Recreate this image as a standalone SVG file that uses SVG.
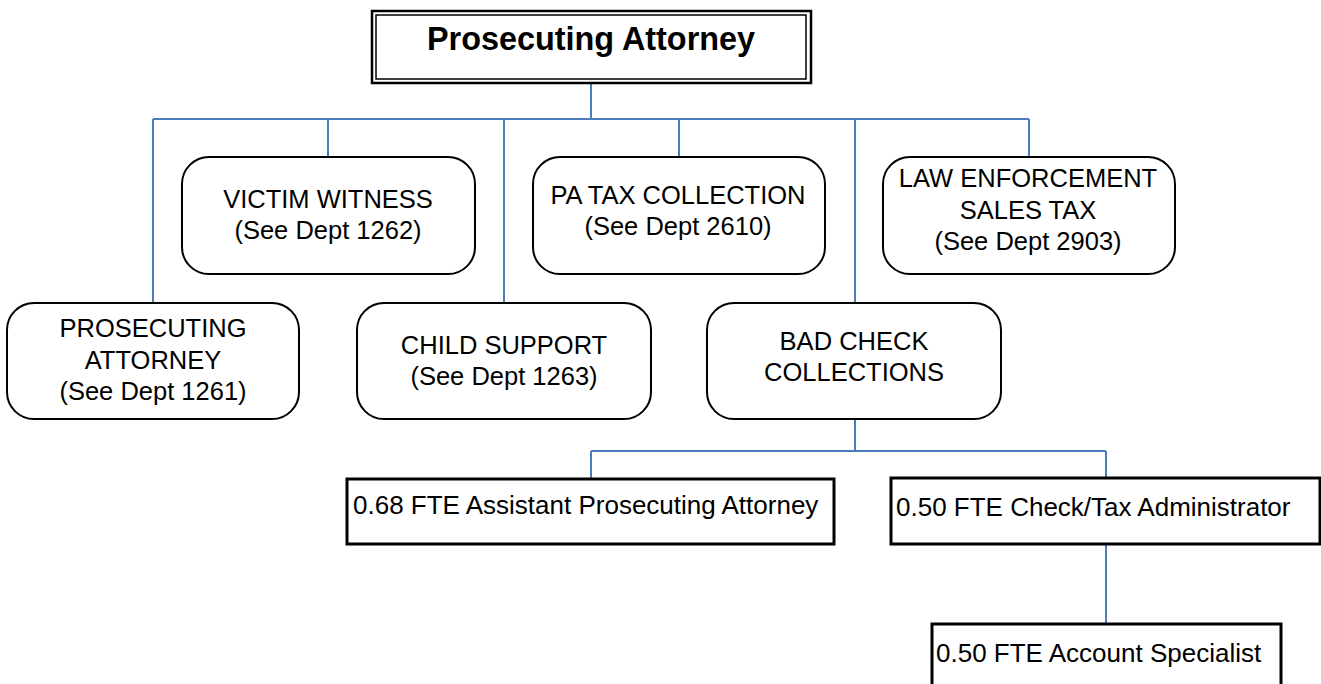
<svg xmlns="http://www.w3.org/2000/svg" width="1321" height="684" viewBox="0 0 1321 684">
<style>
text{font-family:"Liberation Sans",Arial,sans-serif;font-size:25.5px;fill:#000}
.t{font-weight:bold;font-size:32.4px}
.s{font-size:26px}
.rb{fill:#fff;stroke:#000;stroke-width:2}
.sq{fill:#fff;stroke:#000;stroke-width:3}
.c{fill:none;stroke:#4A7EBB;stroke-width:2}
.m{text-anchor:middle}
</style>
<rect width="1321" height="684" fill="#fff"/>
<g id="connectors">
<path class="c" d="M591,83V119M153,119H1029M153,119V303M328,119V157M504,119V303M679,119V157M855,119V303M1029,119V157"/>
<path class="c" d="M855,419V451M591,451H1106M591,451V479M1106,451V478M1106,544V624"/>
</g>
<g id="top">
<rect x="372" y="11" width="439" height="72" fill="#fff" stroke="#000" stroke-width="2.5"/>
<rect x="376" y="15" width="430" height="64" fill="none" stroke="#000" stroke-width="1.5"/>
<text class="t m" x="591" y="50">Prosecuting Attorney</text>
</g>
<g id="victim">
<rect class="rb" x="182" y="157" width="293" height="117" rx="27"/>
<text class="m" x="328" y="208">VICTIM WITNESS</text>
<text class="m" x="328" y="239">(See Dept 1262)</text>
</g>
<g id="patax">
<rect class="rb" x="533" y="157" width="292" height="117" rx="27"/>
<text class="m" x="678" y="204">PA TAX COLLECTION</text>
<text class="m" x="678" y="235">(See Dept 2610)</text>
</g>
<g id="law">
<rect class="rb" x="883" y="157" width="292" height="117" rx="27"/>
<text class="m" x="1028" y="187">LAW ENFORCEMENT</text>
<text class="m" x="1028" y="219">SALES TAX</text>
<text class="m" x="1028" y="250">(See Dept 2903)</text>
</g>
<g id="pa">
<rect class="rb" x="7" y="303" width="292" height="116" rx="27"/>
<text class="m" x="153" y="337">PROSECUTING</text>
<text class="m" x="153" y="369">ATTORNEY</text>
<text class="m" x="153" y="400">(See Dept 1261)</text>
</g>
<g id="child">
<rect class="rb" x="357" y="303" width="294" height="116" rx="27"/>
<text class="m" x="504" y="354">CHILD SUPPORT</text>
<text class="m" x="504" y="385">(See Dept 1263)</text>
</g>
<g id="badcheck">
<rect class="rb" x="707" y="303" width="294" height="116" rx="27"/>
<text class="m" x="854" y="350">BAD CHECK</text>
<text class="m" x="854" y="381">COLLECTIONS</text>
</g>
<g id="apa">
<rect class="sq" x="347" y="479" width="487" height="65"/>
<text class="s" x="353" y="514">0.68 FTE Assistant Prosecuting Attorney</text>
</g>
<g id="admin">
<rect class="sq" x="891" y="478" width="429" height="66"/>
<text class="s" x="896" y="516">0.50 FTE Check/Tax Administrator</text>
</g>
<g id="spec">
<rect class="sq" x="932" y="624" width="349" height="80"/>
<text class="s" x="936" y="662">0.50 FTE Account Specialist</text>
</g>
</svg>
